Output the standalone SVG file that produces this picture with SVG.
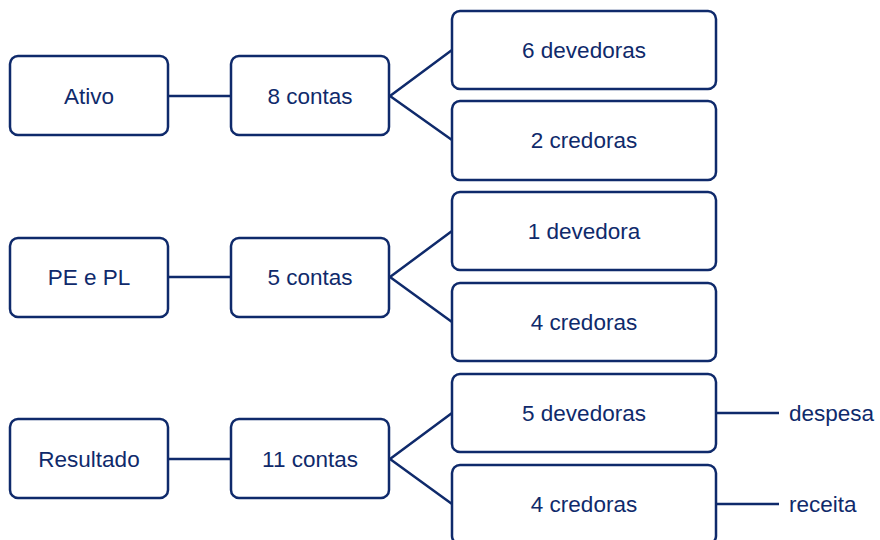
<svg xmlns="http://www.w3.org/2000/svg" width="880" height="540" viewBox="0 0 880 540">
<style>
.box{fill:#fff;stroke:#0f2a6b;stroke-width:2.5}
.lbl{font-family:"Liberation Sans",Arial,sans-serif;font-size:22.5px;fill:#0f2a6b;text-anchor:middle;dominant-baseline:central}
.side{font-family:"Liberation Sans",Arial,sans-serif;font-size:22.5px;fill:#0f2a6b;dominant-baseline:central}
.con{stroke:#0f2a6b;stroke-width:2.5;fill:none}
</style>
<rect width="880" height="540" fill="#fff"/>
<g id="connectors">
<line class="con" x1="168" y1="96" x2="231" y2="96"/>
<polyline class="con" points="452,50 390,96 452,140"/>
<line class="con" x1="168" y1="277" x2="231" y2="277"/>
<polyline class="con" points="452,231 390,277 452,322"/>
<line class="con" x1="168" y1="459" x2="231" y2="459"/>
<polyline class="con" points="452,413 390,459 452,504"/>
<line class="con" x1="716" y1="413" x2="779" y2="413"/>
<line class="con" x1="716" y1="504" x2="779" y2="504"/>
</g>
<g id="ativo"><rect class="box" x="10" y="56" width="158" height="79" rx="8"/><text class="lbl" x="89" y="96">Ativo</text></g>
<g id="ativo-contas"><rect class="box" x="231" y="56" width="158" height="79" rx="8"/><text class="lbl" x="310" y="96">8 contas</text></g>
<g id="ativo-dev"><rect class="box" x="452" y="11" width="264" height="78" rx="8"/><text class="lbl" x="584" y="50">6 devedoras</text></g>
<g id="ativo-cred"><rect class="box" x="452" y="101" width="264" height="79" rx="8"/><text class="lbl" x="584" y="140">2 credoras</text></g>
<g id="pepl"><rect class="box" x="10" y="238" width="158" height="79" rx="8"/><text class="lbl" x="89" y="277">PE e PL</text></g>
<g id="pepl-contas"><rect class="box" x="231" y="238" width="158" height="79" rx="8"/><text class="lbl" x="310" y="277">5 contas</text></g>
<g id="pepl-dev"><rect class="box" x="452" y="192" width="264" height="78" rx="8"/><text class="lbl" x="584" y="231">1 devedora</text></g>
<g id="pepl-cred"><rect class="box" x="452" y="283" width="264" height="78" rx="8"/><text class="lbl" x="584" y="322">4 credoras</text></g>
<g id="resultado"><rect class="box" x="10" y="419" width="158" height="79" rx="8"/><text class="lbl" x="89" y="459">Resultado</text></g>
<g id="resultado-contas"><rect class="box" x="231" y="419" width="158" height="79" rx="8"/><text class="lbl" x="310" y="459">11 contas</text></g>
<g id="resultado-dev"><rect class="box" x="452" y="374" width="264" height="78" rx="8"/><text class="lbl" x="584" y="413">5 devedoras</text></g>
<g id="resultado-cred"><rect class="box" x="452" y="465" width="264" height="79" rx="8"/><text class="lbl" x="584" y="504">4 credoras</text></g>
<g id="despesa"><text class="side" x="789" y="413">despesa</text></g>
<g id="receita"><text class="side" x="789" y="504">receita</text></g>
</svg>
